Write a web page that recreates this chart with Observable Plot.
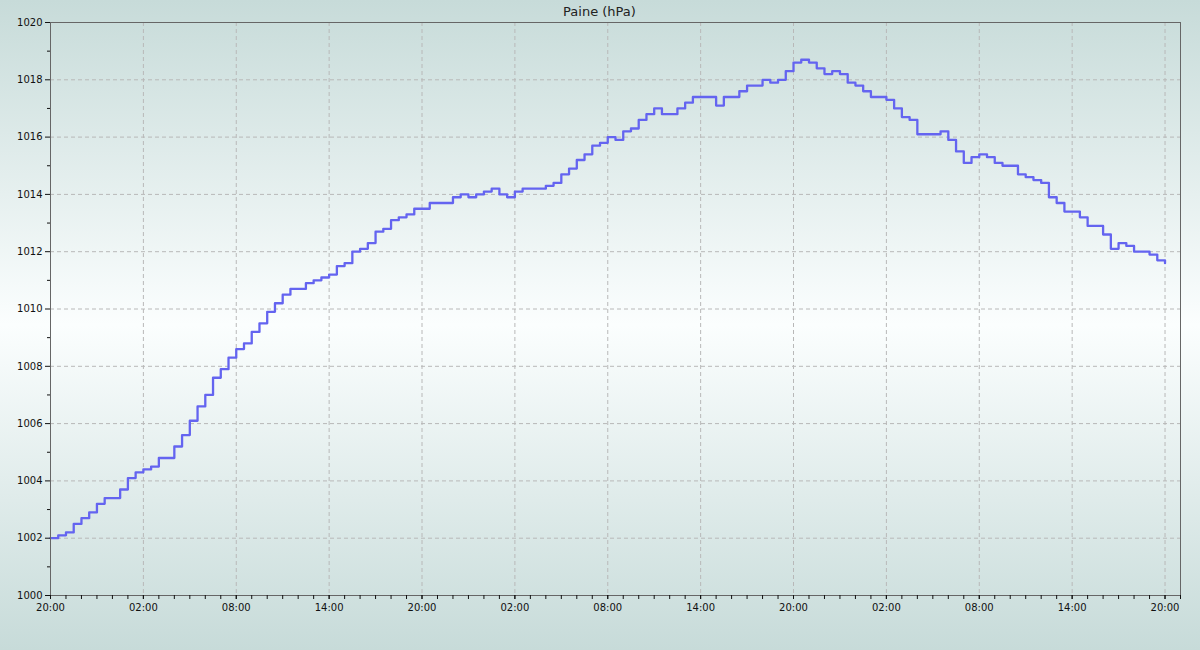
<!DOCTYPE html>
<html>
<head>
<meta charset="utf-8">
<script src="https://cdn.jsdelivr.net/npm/d3@7"></script>
<script src="https://cdn.jsdelivr.net/npm/@observablehq/plot@0.6"></script>
<style>
  html, body { margin: 0; padding: 0; width: 1200px; height: 650px; overflow: hidden; }
  body { background: linear-gradient(to bottom, #c7dbd9 0%, #fbfefe 50%, #c7dbd9 100%); }
  svg { display: block; }
</style>
</head>
<body>
<div id="chart"></div>
<script>
// ---- data ----
const title = "Paine (hPa)";
const startTime = Date.UTC(2020, 0, 1, 20, 0);   // 20:00, first reading
const stepMinutes = 30;                            // half-hourly readings
const pressure = [
  1002.0, 1002.1, 1002.2, 1002.5, 1002.7, 1002.9, 1003.2, 1003.4, 1003.4, 1003.7,
  1004.1, 1004.3, 1004.4, 1004.5, 1004.8, 1004.8, 1005.2, 1005.6, 1006.1, 1006.6,
  1007.0, 1007.6, 1007.9, 1008.3, 1008.6, 1008.8, 1009.2, 1009.5, 1009.9, 1010.2,
  1010.5, 1010.7, 1010.7, 1010.9, 1011.0, 1011.1, 1011.2, 1011.5, 1011.6, 1012.0,
  1012.1, 1012.3, 1012.7, 1012.8, 1013.1, 1013.2, 1013.3, 1013.5, 1013.5, 1013.7,
  1013.7, 1013.7, 1013.9, 1014.0, 1013.9, 1014.0, 1014.1, 1014.2, 1014.0, 1013.9,
  1014.1, 1014.2, 1014.2, 1014.2, 1014.3, 1014.4, 1014.7, 1014.9, 1015.2, 1015.4,
  1015.7, 1015.8, 1016.0, 1015.9, 1016.2, 1016.3, 1016.6, 1016.8, 1017.0, 1016.8,
  1016.8, 1017.0, 1017.2, 1017.4, 1017.4, 1017.4, 1017.1, 1017.4, 1017.4, 1017.6,
  1017.8, 1017.8, 1018.0, 1017.9, 1018.0, 1018.3, 1018.6, 1018.7, 1018.6, 1018.4,
  1018.2, 1018.3, 1018.2, 1017.9, 1017.8, 1017.6, 1017.4, 1017.4, 1017.3, 1017.0,
  1016.7, 1016.6, 1016.1, 1016.1, 1016.1, 1016.2, 1015.9, 1015.5, 1015.1, 1015.3,
  1015.4, 1015.3, 1015.1, 1015.0, 1015.0, 1014.7, 1014.6, 1014.5, 1014.4, 1013.9,
  1013.7, 1013.4, 1013.4, 1013.2, 1012.9, 1012.9, 1012.6, 1012.1, 1012.3, 1012.2,
  1012.0, 1012.0, 1011.9, 1011.7, 1011.6
];
const xMajorHours = [0, 6, 12, 18, 24, 30, 36, 42, 48, 54, 60, 66, 72];
const xMinorHours = d3.range(0, 74, 1);
const xDomainHours = [0, 73];
const yDomain = [1000, 1020];
const yMajorTicks = [1000, 1002, 1004, 1006, 1008, 1010, 1012, 1014, 1016, 1018, 1020];
const yMinorTicks = [1001, 1003, 1005, 1007, 1009, 1011, 1013, 1015, 1017, 1019];

// ---- build ----
const H = 3600e3;
const toDate = h => new Date(startTime + h * H);
const series = pressure.map((p, i) => ({ time: new Date(startTime + i * stepMinutes * 60e3), p }));
const fmt = d3.utcFormat("%H:%M");

const chart = Plot.plot({
  width: 1200,
  height: 650,
  marginLeft: 50,
  marginRight: 20,
  marginTop: 22,
  marginBottom: 55,
  style: { fontFamily: "DejaVu Sans", fontSize: "10px", background: "transparent", color: "#111" },
  x: { type: "utc", domain: xDomainHours.map(toDate) },
  y: { domain: yDomain },
  marks: [
    Plot.gridY(yMajorTicks, { stroke: "#b8b8b8", strokeOpacity: 1, strokeDasharray: "4,3" }),
    Plot.gridX(xMajorHours.map(toDate), { stroke: "#b8b8b8", strokeOpacity: 1, strokeDasharray: "4,3" }),
    Plot.line(series, { x: "time", y: "p", curve: "step-after", stroke: "#6464f0", strokeWidth: 2.3 }),
    Plot.frame({ stroke: "#666" }),
    Plot.axisY(yMajorTicks, { tickSize: 5, tickPadding: 3, label: null, tickFormat: d => String(d), stroke: "#111" }),
    Plot.axisY(yMinorTicks, { tickSize: 3, label: null, tickFormat: () => "", stroke: "#111" }),
    Plot.axisX(xMinorHours.map(toDate), { tickSize: 4, label: null, tickFormat: () => "", stroke: "#111" }),
    Plot.axisX(xMajorHours.map(toDate), { tickSize: 4, tickPadding: 4, label: null, tickFormat: fmt, stroke: "#111" }),
    Plot.text([title], { frameAnchor: "top", lineAnchor: "middle", text: d => d, dx: -16, dy: -11, fontSize: 13, fill: "#222" })
  ]
});
document.getElementById("chart").appendChild(chart);
</script>
</body>
</html>
